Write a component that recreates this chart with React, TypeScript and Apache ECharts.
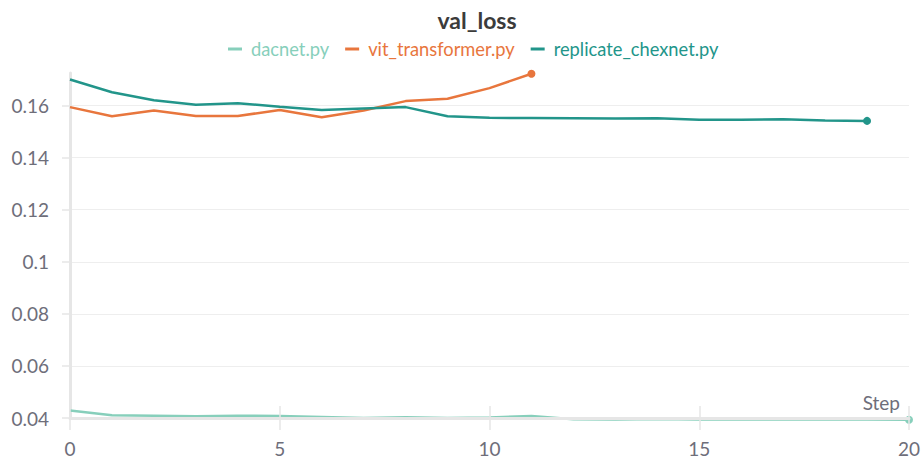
import React, { useEffect, useRef } from "react";
import * as echarts from "echarts";

const dacnetSteps = [0,1,2,3,4,5,6,7,8,9,10,11,12,13,14,15,16,17,18,19,20];
const dacnetValues = [0.0429,0.0411,0.0409,0.0407,0.0409,0.0408,0.0404,0.0400,0.0403,0.0400,0.0402,0.0408,0.0395,0.0394,0.0396,0.0394,0.0394,0.0394,0.0394,0.0394,0.0393];
const vitSteps = [0,1,2,3,4,5,6,7,8,9,10,11];
const vitValues = [0.1594,0.1559,0.1581,0.1560,0.1560,0.1583,0.1555,0.1581,0.1617,0.1626,0.1667,0.1722];
const chexSteps = [0,1,2,3,4,5,6,7,8,9,10,11,12,13,14,15,16,17,18,19];
const chexValues = [0.1700,0.1651,0.1620,0.1603,0.1609,0.1595,0.1583,0.1589,0.1594,0.1559,0.1553,0.1552,0.1551,0.1550,0.1551,0.1545,0.1545,0.1547,0.1543,0.1541];

const seriesNames = ["dacnet.py", "vit_transformer.py", "replicate_chexnet.py"];
const seriesColors = ["#87cfbb", "#e8763d", "#22958a"];
const yTicks = [0.04, 0.06, 0.08, 0.1, 0.12, 0.14, 0.16];
const xTicks = [0, 5, 10, 15, 20];

const FONT = "Lato, 'Noto Sans', sans-serif";
const LABEL = "#6e6e7a";
const AXIS = "#e6e6e6";

function buildData(steps: number[], values: number[], color: string) {
  return steps.map((s, i) =>
    i === steps.length - 1
      ? { value: [s, values[i]], symbol: "circle", symbolSize: 8, itemStyle: { color } }
      : { value: [s, values[i]], symbol: "none" }
  );
}

export default function App() {
  const ref = useRef<HTMLDivElement>(null);
  useEffect(() => {
    if (!ref.current) return;
    const chart = echarts.init(ref.current, undefined, { renderer: "svg" });
    const all = [
      [dacnetSteps, dacnetValues],
      [vitSteps, vitValues],
      [chexSteps, chexValues],
    ];
    const xBase = {
      type: "value",
      min: xTicks[0],
      max: xTicks[xTicks.length - 1],
      interval: 5,
      splitLine: { show: false },
    };
    chart.setOption({
      animation: false,
      title: {
        text: "val_loss",
        left: 472,
        textAlign: "center",
        top: 3,
        textStyle: { fontFamily: FONT, fontSize: 23, fontWeight: "bold", color: "#3b3b3b" },
      },
      legend: {
        top: 35,
        left: 223,
        icon: "rect",
        itemWidth: 14,
        itemHeight: 3,
        itemGap: 16,
        data: seriesNames.map((n, i) => ({ name: n, textStyle: { color: seriesColors[i] } })),
        textStyle: { fontFamily: FONT, fontSize: 18.3, padding: [0, 0, 0, 4] },
      },
      grid: { left: 70, right: 15, top: 73, bottom: 44, containLabel: false },
      xAxis: [
        {
          ...xBase,
          z: 3,
          axisLine: { show: true, lineStyle: { color: AXIS, width: 3 } },
          axisTick: { show: true, length: 12, lineStyle: { color: AXIS, width: 1.5 } },
          axisLabel: { fontFamily: FONT, fontSize: 19, color: LABEL, margin: 21 },
        },
        {
          ...xBase,
          position: "bottom",
          z: 3,
          axisLine: { show: false },
          axisTick: { show: true, inside: true, length: 12, lineStyle: { color: AXIS, width: 1.5 } },
          axisLabel: { show: false },
        },
      ],
      yAxis: {
        type: "value",
        min: yTicks[0],
        max: 0.1725,
        interval: 0.02,
        axisLine: { show: true, lineStyle: { color: AXIS, width: 3 } },
        axisTick: { show: true, length: 8, lineStyle: { color: AXIS, width: 1.5 } },
        splitLine: { show: true, showMaxLine: false, showMinLine: false, lineStyle: { color: "#eeeeee", width: 1 } },
        axisLabel: {
          fontFamily: FONT,
          fontSize: 19,
          color: LABEL,
          margin: 21,
          showMaxLabel: false,
          formatter: (v: number) => {
            const found = yTicks.find((t) => Math.abs(t - v) < 1e-9);
            return found === undefined ? "" : String(found);
          },
        },
      },
      graphic: [
        {
          type: "text",
          right: 24,
          top: 393,
          style: { text: "Step", fontFamily: FONT, fontSize: 19, fill: LABEL },
        },
      ],
      series: all.map(([s, v], i) => ({
        name: seriesNames[i],
        type: "line",
        z: i === 0 ? 1 : 2,
        clip: i === 0 ? false : true,
        color: seriesColors[i],
        lineStyle: { width: 2.5, color: seriesColors[i] },
        data: buildData(s as number[], v as number[], seriesColors[i]),
      })),
    });
    return () => chart.dispose();
  }, []);
  return <div ref={ref} style={{ position: "absolute", left: 0, top: 0, width: 924, height: 462 }} />;
}
